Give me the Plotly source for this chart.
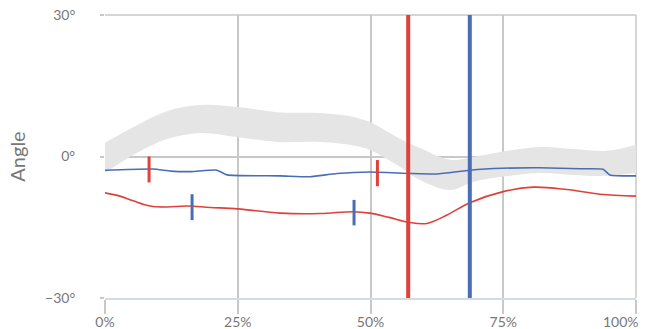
import plotly.graph_objects as go

# Normal range band (percent of cycle -> degrees)
band_x = [0, 5.3, 11.7, 17.9, 25, 32.4, 40.5, 46.7, 49.9, 55, 59.3, 65, 69.3, 74.8, 81.9, 88.1, 94.5, 100]
band_upper = [2.9, 6.2, 9.6, 10.9, 10.5, 9.4, 9.2, 8.4, 7.3, 4.1, 1.8, -0.7, -0.1, 1.0, 2.0, 1.6, 1.2, 2.5]
band_lower = [-3.5, 0.3, 3.7, 5.0, 4.1, 3.1, 3.1, 2.4, 1.4, -1.8, -5.0, -7.1, -5.4, -4.3, -3.5, -3.9, -4.1, -3.5]

# Blue series
blue_x = [0, 9, 12.4, 16.2, 21.1, 23, 33, 38.6, 43.7, 49.9, 57.4, 62.5, 68.7, 74.8, 81.9, 89.5, 93.8, 95.1, 100]
blue_y = [-2.9, -2.65, -3.1, -3.2, -2.9, -3.9, -4.1, -4.3, -3.6, -3.3, -3.6, -3.7, -2.9, -2.5, -2.4, -2.6, -2.7, -3.9, -4.1]

# Red series
red_x = [0, 2.8, 5.3, 8.5, 11.7, 15.4, 19.8, 25, 33, 40.5, 46.7, 49.9, 53.5, 57.4, 60.6, 64.4, 68.7, 74.8, 80.6, 87, 93.2, 100]
red_y = [-7.7, -8.4, -9.4, -10.5, -10.7, -10.5, -10.8, -11.1, -12.0, -12.1, -11.7, -12.0, -12.9, -14.0, -14.2, -12.4, -9.8, -7.5, -6.5, -7.0, -8.0, -8.4]

# Event markers: (position %, y start, y end)
red_events = [(8.3, 0.0, -5.5), (51.3, -0.75, -6.3)]
blue_events = [(16.4, -8.0, -13.5), (46.9, -9.2, -14.6)]
red_toe_off = 57.1
blue_toe_off = 68.7

# Axis ticks
x_ticks = [0, 25, 50, 75, 100]
x_tick_text = ["0%", "25%", "50%", "75%", ""]
x_last_label = "100%"
y_ticks = [-30, 0, 30]
y_tick_text = ["\u221230°", "0°", "30°"]

RED = "#e0403a"
BLUE = "#4b6db5"
GRID = "#c8c8c8"
TEXT = "#777777"

fig = go.Figure()

fig.add_trace(go.Scatter(x=band_x, y=band_lower, mode="lines", line=dict(width=0, shape="spline"),
                         hoverinfo="skip", showlegend=False))
fig.add_trace(go.Scatter(x=band_x, y=band_upper, mode="lines", line=dict(width=0, shape="spline"),
                         fill="tonexty", fillcolor="#e5e5e5", hoverinfo="skip", showlegend=False))

fig.add_trace(go.Scatter(x=blue_x, y=blue_y, mode="lines",
                         line=dict(color=BLUE, width=1.6, shape="spline", smoothing=0.5), showlegend=False))
fig.add_trace(go.Scatter(x=red_x, y=red_y, mode="lines",
                         line=dict(color=RED, width=1.6, shape="spline", smoothing=1.0), showlegend=False))

for pos, y0, y1 in red_events:
    fig.add_trace(go.Scatter(x=[pos, pos], y=[y0, y1], mode="lines",
                             line=dict(color=RED, width=3), showlegend=False))
for pos, y0, y1 in blue_events:
    fig.add_trace(go.Scatter(x=[pos, pos], y=[y0, y1], mode="lines",
                             line=dict(color=BLUE, width=3), showlegend=False))

fig.add_trace(go.Scatter(x=[red_toe_off, red_toe_off], y=[-30, 30], mode="lines",
                         line=dict(color=RED, width=4), showlegend=False))
fig.add_trace(go.Scatter(x=[blue_toe_off, blue_toe_off], y=[-30, 30], mode="lines",
                         line=dict(color=BLUE, width=4), showlegend=False))

# Frame lines at the top and right edges of the plot area
fig.add_shape(type="line", xref="paper", yref="paper", x0=0, x1=1, y0=1, y1=1,
              line=dict(color=GRID, width=1.5), layer="below")
fig.add_shape(type="line", xref="paper", yref="paper", x0=1, x1=1, y0=0, y1=1,
              line=dict(color=GRID, width=1.5), layer="below")

# Last x label kept inside the canvas
fig.add_annotation(x=x_ticks[-1], y=0, xref="x", yref="paper", text=x_last_label,
                   showarrow=False, xanchor="right", yanchor="middle", xshift=4, yshift=-23,
                   borderpad=0, font=dict(size=14, color=TEXT))

fig.update_layout(
    width=646, height=329,
    margin=dict(l=105, r=10, t=15, b=31),
    paper_bgcolor="white", plot_bgcolor="white",
    font=dict(family="Lato", size=14, color=TEXT),
    xaxis=dict(range=[0, 100], tickmode="array", tickvals=x_ticks, ticktext=x_tick_text,
               showgrid=True, gridcolor=GRID, gridwidth=1.5,
               ticks="outside", ticklen=14, tickcolor=GRID, tickwidth=1.5,
               showline=True, linecolor="#d3daea", linewidth=2, mirror=False,
               zeroline=False, ticklabelstandoff=-4, automargin=False),
    yaxis=dict(range=[-30, 30], tickmode="array", tickvals=y_ticks, ticktext=y_tick_text,
               showgrid=True, gridcolor=GRID, gridwidth=1.5,
               ticks="outside", ticklen=4, tickcolor=GRID, tickwidth=1.5,
               zeroline=False, showline=False, ticklabelstandoff=22, automargin=False,
               title=dict(text="Angle", font=dict(size=20, color=TEXT), standoff=14)),
)

fig.write_html("out.html")
